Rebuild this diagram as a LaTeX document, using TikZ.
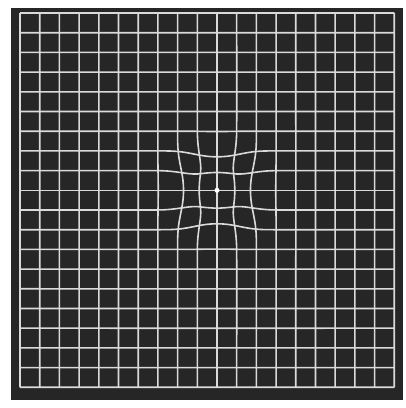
\documentclass[tikz,border=0pt]{standalone}
\usepackage{tikz}
\usetikzlibrary{positioning}
\definecolor{boardcol}{HTML}{262626}
\definecolor{linecol}{HTML}{DADADA}

\begin{document}
\begin{tikzpicture}[
    x=1pt, y=-1pt,
    gridline/.style={draw=linecol, line width=1.6pt},
    fixdot/.style={circle, fill=white, inner sep=0pt, minimum size=5pt},
    declare function={
      wq(\a,\b)=((\a-10)*(\a-10)+(\b-9)*(\b-9))/4;
      warp(\a,\b)=0.15*wq(\a,\b)*exp(max(1-wq(\a,\b)*wq(\a,\b),-10));
    }
  ]
    \useasboundingbox (0,0) rectangle (406,408);

    % Dark board
    \fill[boardcol] (11,8) rectangle (403,400);

    % Grid in cell units, pulled in round the fixation point
    \begin{scope}[shift={(20,13)}, x=19.7pt, y=-19.7pt]
      % Vertical lines
      \foreach \i in {0,...,19} {
        \draw[gridline] plot[domain=0:19, samples=96, smooth]
          ({\i-warp(\i,\x)*(\i-10)}, {\x-warp(\i,\x)*(\x-9)});
      }
      % Horizontal lines
      \foreach \j in {0,...,19} {
        \draw[gridline] plot[domain=0:19, samples=96, smooth]
          ({\x-warp(\x,\j)*(\x-10)}, {\j-warp(\x,\j)*(\j-9)});
      }
      % Fixation point
      \node[fixdot] (fix) at (10,9) {};
    \end{scope}
  \end{tikzpicture}
\end{document}
